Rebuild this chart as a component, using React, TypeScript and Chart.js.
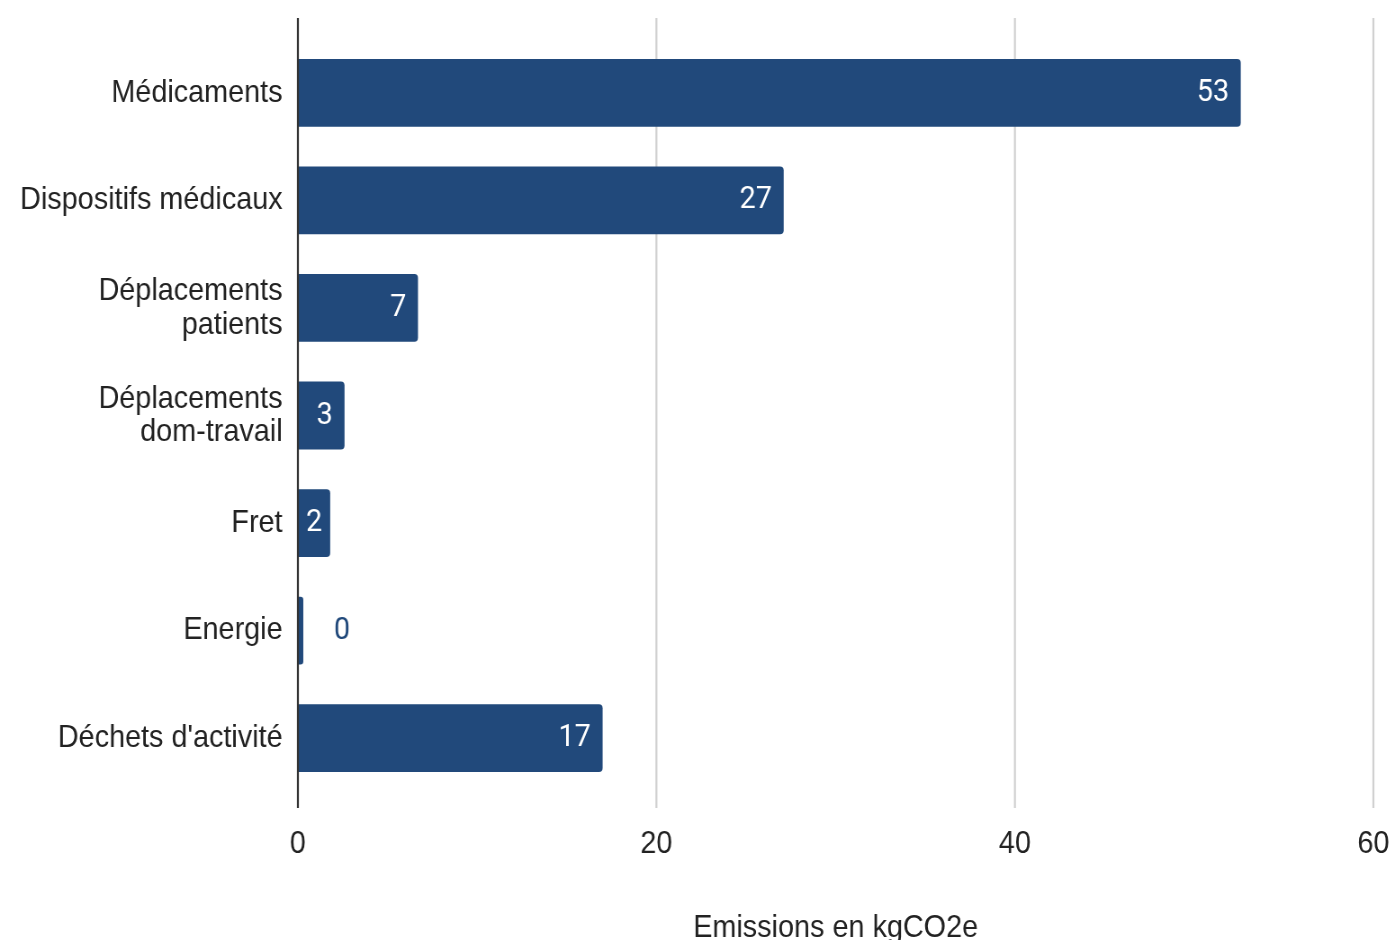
import { useEffect, useRef } from 'react';
import { Chart, registerables } from 'chart.js';

Chart.register(...registerables);

const categories: string[][] = [
  ['Médicaments'],
  ['Dispositifs médicaux'],
  ['Déplacements', 'patients'],
  ['Déplacements', 'dom-travail'],
  ['Fret'],
  ['Energie'],
  ["Déchets d'activité"],
];
const emissions = [52.6, 27.1, 6.7, 2.6, 1.8, 0.3, 17.0];
const xTicks = [0, 20, 40, 60];
const axisTitle = 'Emissions en kgCO2e';

const BAR = '#21497b';
const SX = 0.9;
const VW = 1549;
const VH = 960;

const gridPlugin = {
  id: 'extGrid',
  beforeDatasetsDraw(chart: any) {
    const { ctx, scales } = chart;
    const x = scales.x;
    ctx.save();
    xTicks.forEach((v) => {
      if (v === 0) return;
      const px = x.getPixelForValue(v);
      ctx.beginPath();
      ctx.lineWidth = 2.2;
      ctx.strokeStyle = '#d0d0d0';
      ctx.moveTo(px, 18);
      ctx.lineTo(px, 808);
      ctx.stroke();
    });
    ctx.restore();
  },
  afterDatasetsDraw(chart: any) {
    const { ctx, scales } = chart;
    const px = scales.x.getPixelForValue(0);
    ctx.save();
    ctx.beginPath();
    ctx.lineWidth = 2.2;
    ctx.strokeStyle = '#333333';
    ctx.moveTo(px, 18);
    ctx.lineTo(px, 808);
    ctx.stroke();
    ctx.restore();
  },
};

const valueLabels = {
  id: 'valueLabels',
  afterDatasetsDraw(chart: any) {
    const ctx = chart.ctx;
    const meta = chart.getDatasetMeta(0);
    ctx.save();
    ctx.font = '32px Roboto';
    ctx.textBaseline = 'middle';
    meta.data.forEach((bar: any, i: number) => {
      const txt = String(Math.round(emissions[i]));
      const w = ctx.measureText(txt).width;
      const { x, y, base } = bar.getProps(['x', 'y', 'base'], true);
      const bw = x - base;
      if (bw >= w + 26) {
        ctx.fillStyle = '#ffffff';
        ctx.textAlign = 'right';
        ctx.fillText(txt, x - 13, y);
      } else if (bw >= w + 4) {
        ctx.fillStyle = '#ffffff';
        ctx.textAlign = 'center';
        ctx.fillText(txt, (x + base) / 2, y);
      } else {
        ctx.fillStyle = BAR;
        ctx.textAlign = 'left';
        ctx.fillText(txt, x + 34, y);
      }
    });
    ctx.restore();
  },
};

export default function App() {
  const ref = useRef<HTMLCanvasElement | null>(null);

  useEffect(() => {
    if (!ref.current) return;
    const chart = new Chart(ref.current, {
      type: 'bar',
      data: {
        labels: categories,
        datasets: [
          {
            data: emissions,
            backgroundColor: BAR,
            borderRadius: 4,
            borderSkipped: 'start',
            barPercentage: 0.63,
            categoryPercentage: 1,
          },
        ],
      },
      options: {
        indexAxis: 'y',
        animation: false,
        responsive: true,
        maintainAspectRatio: false,
        layout: { padding: { top: 39, right: 23, left: 0, bottom: 0 } },
        plugins: {
          legend: { display: false },
          tooltip: { enabled: false },
        },
        scales: {
          x: {
            type: 'linear',
            min: 0,
            max: 60,
            afterBuildTicks: (s: any) => {
              s.ticks = xTicks.map((v) => ({ value: v }));
            },
            afterFit: (s: any) => {
              s.height = VH - 792;
              s.paddingLeft = 0;
              s.paddingRight = 0;
            },
            grid: { display: false, drawTicks: false },
            border: { display: false },
            ticks: {
              padding: 33,
              color: '#222222',
              font: { family: 'Liberation Sans', size: 32 },
              maxRotation: 0,
            },
            title: {
              display: true,
              text: axisTitle,
              color: '#222222',
              font: { family: 'Liberation Sans', size: 32 },
              padding: { top: 0, bottom: 13 },
            },
          },
          y: {
            afterFit: (s: any) => {
              s.width = 331;
            },
            grid: { display: false, drawTicks: false },
            border: { display: false },
            ticks: {
              autoSkip: false,
              padding: 17,
              color: '#222222',
              font: { family: 'Liberation Sans', size: 32, lineHeight: 1.05 },
            },
          },
        },
      },
      plugins: [gridPlugin, valueLabels],
    });
    return () => chart.destroy();
  }, []);

  return (
    <div
      style={{
        position: 'absolute',
        left: 0,
        top: 0,
        width: 1394,
        height: 940,
        overflow: 'hidden',
        background: '#ffffff',
      }}
    >
      <div
        style={{
          position: 'relative',
          width: VW,
          height: VH,
          transform: `scaleX(${SX})`,
          transformOrigin: '0 0',
        }}
      >
        <canvas ref={ref} style={{ display: 'block' }} />
      </div>
    </div>
  );
}
